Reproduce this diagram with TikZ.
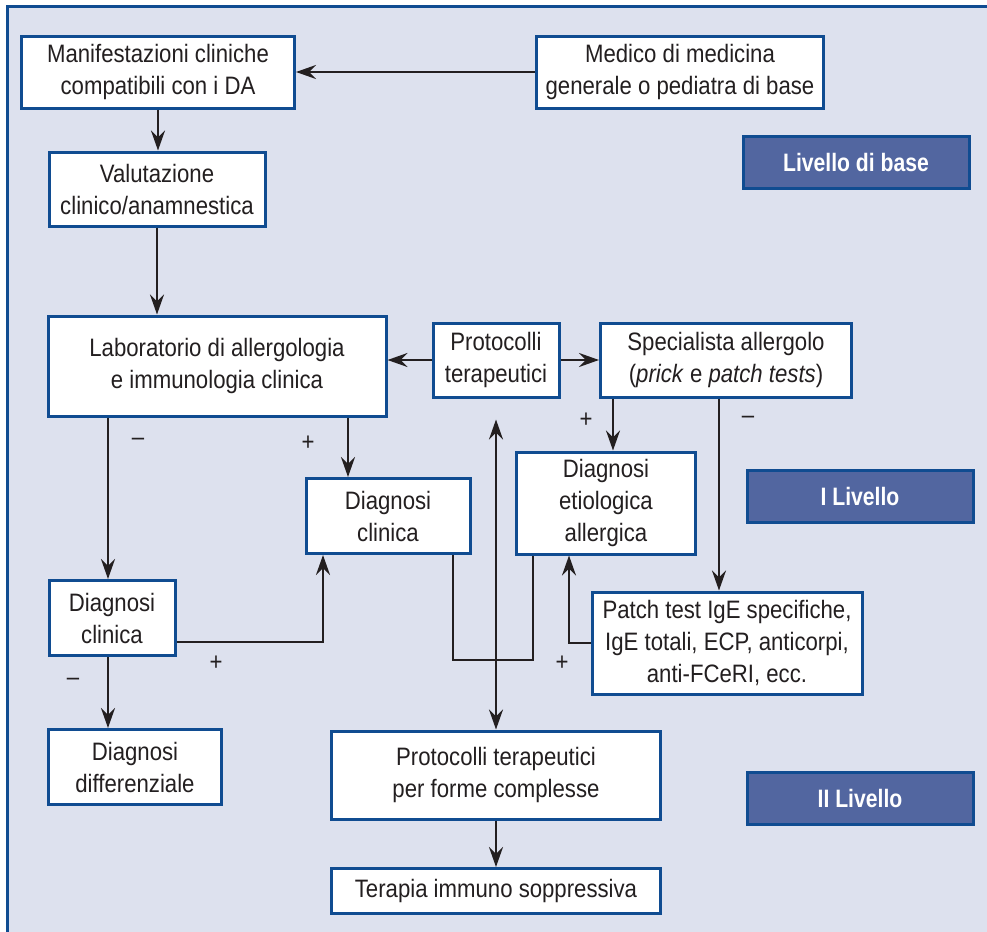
\documentclass[tikz,border=0pt]{standalone}
\usepackage{fontspec}
\setmainfont[FakeStretch=0.88]{Liberation Sans}
\newfontfamily\livfont[FakeStretch=0.84]{Liberation Sans}
\usetikzlibrary{arrows.meta,calc}

\definecolor{bgblue}{RGB}{221,225,238}
\definecolor{frameblue}{RGB}{16,76,145}
\definecolor{livblue}{RGB}{82,102,160}
\definecolor{ink}{RGB}{35,31,32}

\begin{document}
\begin{tikzpicture}[x=0.5pt, y=-0.5pt,
  font=\fontsize{12.6}{16}\selectfont, text=ink,
  box/.style={draw=frameblue, line width=1.5pt, fill=white, align=center, inner sep=0pt},
  bsize/.style 2 args={minimum width=#1*0.5pt, minimum height=#2*0.5pt},
  livbox/.style={draw=frameblue, line width=1.5pt, fill=livblue, text=white,
    font=\livfont\bfseries\fontsize{12.6}{16}\selectfont, inner sep=0pt},
  arr/.style={-{Stealth[length=10pt,width=7pt,inset=3.5pt]}, draw=ink, line width=1.35pt},
  arrs/.style={{Stealth[length=10pt,width=7pt,inset=3.5pt]}-{Stealth[length=10pt,width=7pt,inset=3.5pt]}, draw=ink, line width=1.35pt},
  link/.style={draw=ink, line width=1.35pt}]

\useasboundingbox (0,0) rectangle (987,932);

% ----- Background -----
\fill[bgblue] (7,6) rectangle (987,932);
\draw[frameblue, line width=1.5pt] (7,932) -- (7,6) -- (987,6);

% ----- Boxes -----
\node[box, bsize={273}{72}] (manif) at (158,72) {Manifestazioni cliniche\\compatibili con i DA};
\node[box, bsize={287}{72}] (medico) at (680,72) {Medico di medicina\\generale o pediatra di base};
\node[box, bsize={216}{74}] (valut) at (157,189) {Valutazione\\clinico/anamnestica};
\node[box, bsize={338}{100}] (lab) at (217,366) {Laboratorio di allergologia\\e immunologia clinica};
\node[box, bsize={126}{74}] (prot) at (496,360) {Protocolli\\terapeutici};
\node[box, bsize={251}{74}] (spec) at (726,360) {Specialista allergolo\\(\textit{prick} e \textit{patch tests})};
\node[box, bsize={164}{75}] (dclin) at (388,516) {Diagnosi\\clinica};
\node[box, bsize={126}{75}] (dclinb) at (112,618) {Diagnosi\\clinica};
\node[box, bsize={179}{102}] (detio) at (606,503) {Diagnosi\\etiologica\\allergica};
\node[box, bsize={270}{102}] (patch) at (727,643) {Patch test IgE specifiche,\\IgE totali, ECP, anticorpi,\\anti-FCeRI, ecc.};
\node[box, bsize={173}{75}] (ddiff) at (135,767) {Diagnosi\\differenziale};
\node[box, bsize={329}{88}] (protcx) at (496,775) {Protocolli terapeutici\\per forme complesse};
\node[box, bsize={329}{45}] (terapia) at (496,891) {Terapia immuno soppressiva};

% ----- Levels -----
\node[livbox, bsize={226}{52}] (lbase) at (856,162) {Livello di base};
\node[livbox, bsize={226}{52}] (liv1) at (860,496) {I Livello};
\node[livbox, bsize={226}{52}] (liv2) at (860,798) {II Livello};

% ----- Arrows -----
\draw[arr] (medico.west) -- (medico.west -| manif.east);
\draw[arr] (manif.south) -- (manif.south |- valut.north);
\draw[arr] (valut.south) -- (valut.south |- lab.north);
\draw[arr] (prot.west) -- (prot.west -| lab.east);
\draw[arr] (prot.east) -- (prot.east -| spec.west);
\draw[arr] ([xshift=-2pt]dclinb.north |- lab.south) -- ([xshift=-2pt]dclinb.north);
\draw[arr] ([xshift=-20pt]dclin.north |- lab.south) -- ([xshift=-20pt]dclin.north);
\draw[arr] ([yshift=-12pt]dclinb.east) -| ([xshift=-32.5pt]dclin.south);
\draw[arr] ([xshift=-2pt]dclinb.south) -- ([xshift=-2pt]dclinb.south |- ddiff.north);
\draw[arr] ([xshift=3.5pt]detio.north |- spec.south) -- ([xshift=3.5pt]detio.north);
\draw[arr] ([xshift=-4pt]patch.north |- spec.south) -- ([xshift=-4pt]patch.north);
\draw[arr] (patch.west) -| ([xshift=-18.5pt]detio.south);
\draw[link] ([xshift=32.5pt]dclin.south) -- ++(0,105) -| ([xshift=-36.5pt]detio.south);
\draw[arrs] ([yshift=-10.5pt]prot.south) -- (protcx.north);
\draw[arr] (protcx.south) -- (terapia.north);

% ----- Signs -----
\foreach \x/\y/\s/\n in {138/442/--/m1, 308/443/+/p1, 216/663/+/p2, 73/682/--/m2,
                          586/420/+/p3, 748/420/--/m3, 562/663/+/p4}{
  \node (\n) at (\x,\y) {\s};
}
\end{tikzpicture}
\end{document}
